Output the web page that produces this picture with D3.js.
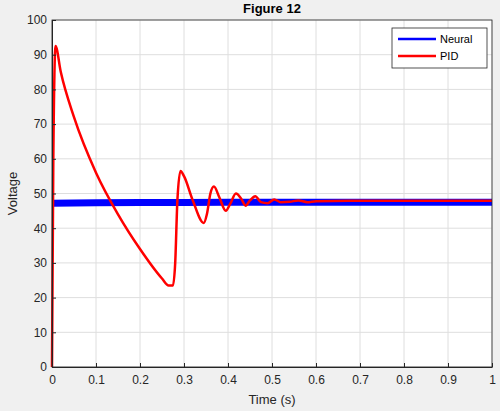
<!DOCTYPE html>
<html><head><meta charset="utf-8">
<script src="https://cdn.jsdelivr.net/npm/d3@7"></script>
<style>body{margin:0;background:#f0f0f0;font-family:Arial,"Liberation Sans",sans-serif}</style>
</head><body><div id="chart"></div>
<script>
const xTicks = [0,0.1,0.2,0.3,0.4,0.5,0.6,0.7,0.8,0.9,1];
const yTicks = [0,10,20,30,40,50,60,70,80,90,100];
const neuralT = [0,0.1,0.2,0.3,0.4,0.5,0.6,0.7,0.8,0.9,1];
const neuralV = [47.2,47.3,47.4,47.4,47.5,47.5,47.5,47.5,47.5,47.5,47.5];
const pidT = [0,0.003,0.008,0.02,0.05,0.1,0.15,0.2,0.25,0.265,0.275,0.28,0.285,0.292,0.3,0.32,0.345,0.352,0.36,0.368,0.38,0.395,0.405,0.418,0.43,0.44,0.45,0.462,0.475,0.49,0.505,0.52,0.54,0.56,0.58,0.6,0.7,1];
const pidV = [0,60,92.5,85,72,56,44,34,25.5,23.5,23.5,30,48,56.5,55,48,41.5,44,50,52,49,45,47,50,48.5,46.5,48,49.2,47.5,47.2,48.3,47.5,47.6,48,47.5,47.8,47.9,47.9];

const w = 500, h = 411;
const m = {l:52, r:8, t:20, b:44};
const svg = d3.select('#chart').append('svg').attr('width', w).attr('height', h)
    .style('font-family', 'Arial, "Liberation Sans", sans-serif');
const x = d3.scaleLinear().domain([0,1]).range([m.l, w - m.r]);
const y = d3.scaleLinear().domain([0,100]).range([h - m.b, m.t]);

svg.append('rect').attr('x', m.l).attr('y', m.t).attr('width', w - m.l - m.r).attr('height', h - m.t - m.b).attr('fill', '#fff');

// grid
svg.append('g').selectAll('line').data(xTicks).join('line')
    .attr('x1', d => x(d)).attr('x2', d => x(d)).attr('y1', m.t).attr('y2', h - m.b)
    .attr('stroke', '#dedede');
svg.append('g').selectAll('line').data(yTicks).join('line')
    .attr('y1', d => y(d)).attr('y2', d => y(d)).attr('x1', m.l).attr('x2', w - m.r)
    .attr('stroke', '#dedede');

const line = d3.line().x(d => x(d[0])).y(d => y(d[1]));
svg.append('path').datum(neuralT.map((t, i) => [t, neuralV[i]]))
    .attr('d', line).attr('fill', 'none').attr('stroke', '#0000ff').attr('stroke-width', 7);
svg.append('path').datum(pidT.map((t, i) => [t, pidV[i]]))
    .attr('d', d3.line().curve(d3.curveMonotoneX).x(d => x(d[0])).y(d => y(d[1])))
    .attr('fill', 'none').attr('stroke', '#ff0000').attr('stroke-width', 2.5);

const xa = svg.append('g').attr('transform', `translate(0,${h - m.b})`)
    .call(d3.axisBottom(x).tickValues(xTicks).tickFormat(d3.format('')).tickSizeInner(-4).tickSizeOuter(0));
const ya = svg.append('g').attr('transform', `translate(${m.l},0)`)
    .call(d3.axisLeft(y).tickValues(yTicks).tickSizeInner(-4).tickSizeOuter(0));
[xa, ya].forEach(a => {
    a.selectAll('text').attr('font-size', 12).attr('fill', '#262626').attr('font-family', 'Arial, "Liberation Sans", sans-serif');
    a.selectAll('line,path').attr('stroke', '#262626');
});
xa.selectAll('text').attr('dy', '1.2em');
ya.selectAll('text').attr('dx', '-2px');
svg.append('rect').attr('x', m.l).attr('y', m.t).attr('width', w - m.l - m.r).attr('height', h - m.t - m.b)
    .attr('fill', 'none').attr('stroke', '#262626').attr('stroke-width', 0.8);

svg.append('text').attr('x', x(0.5)).attr('y', 13).attr('text-anchor', 'middle')
    .attr('font-size', 13).attr('font-weight', 'bold').text('Figure 12');
svg.append('text').attr('x', x(0.5)).attr('y', h - 7).attr('text-anchor', 'middle')
    .attr('font-size', 13).attr('fill', '#262626').text('Time (s)');
svg.append('text').attr('transform', `translate(17,${y(50)}) rotate(-90)`).attr('text-anchor', 'middle')
    .attr('font-size', 13).attr('fill', '#262626').text('Voltage');

// legend
const lg = svg.append('g').attr('transform', 'translate(392,28)');
lg.append('rect').attr('width', 95).attr('height', 40).attr('fill', '#fff').attr('stroke', '#262626').attr('stroke-width', 0.8);
[['Neural', '#0000ff'], ['PID', '#ff0000']].forEach((s, i) => {
    lg.append('line').attr('x1', 6).attr('x2', 44).attr('y1', 11 + i * 17).attr('y2', 11 + i * 17)
        .attr('stroke', s[1]).attr('stroke-width', 2.5);
    lg.append('text').attr('x', 48).attr('y', 15 + i * 17).attr('font-size', 11).text(s[0]);
});
</script></body></html>
